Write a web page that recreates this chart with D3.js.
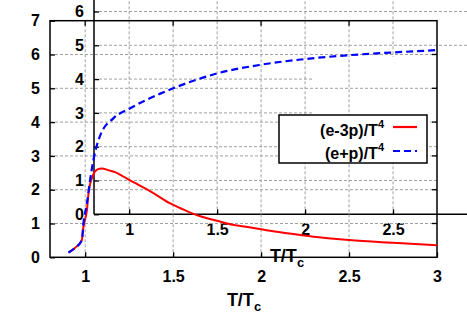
<!DOCTYPE html>
<html>
<head>
<meta charset="utf-8">
<script src="https://cdn.jsdelivr.net/npm/d3@7"></script>
<style>
  body { margin: 0; background: #fff; }
  text { font-family: "Liberation Sans", Arial, sans-serif; font-weight: bold; fill: #000; }
</style>
</head>
<body>
<div id="chart"></div>
<script>
// e-3p over T^4
var redT = [0.905, 0.94, 0.981, 0.99, 1.01, 1.019, 1.045, 1.07, 1.095, 1.13, 1.17, 1.21, 1.25, 1.30, 1.39, 1.48, 1.56, 1.65, 1.75, 1.84, 1.94, 2.03, 2.15, 2.3, 2.5, 2.75, 3.0];
var redV = [0.14, 0.27, 0.51, 0.9, 1.4, 1.9, 2.43, 2.6, 2.63, 2.58, 2.52, 2.41, 2.29, 2.15, 1.89, 1.60, 1.41, 1.22, 1.08, 0.96, 0.88, 0.80, 0.71, 0.61, 0.51, 0.43, 0.36];
// e+p over T^4
var blueT = [0.905, 0.94, 0.981, 0.99, 1.01, 1.028, 1.047, 1.085, 1.16, 1.256, 1.43, 1.5, 1.75, 1.99, 2.24, 2.5, 2.75, 3.0];
var blueV = [0.14, 0.27, 0.51, 1.0, 1.6, 2.29, 2.88, 3.6, 4.11, 4.41, 4.85, 5.0, 5.44, 5.69, 5.86, 5.98, 6.06, 6.13];

var xTicks = [1, 1.5, 2, 2.5, 3];
var yTicks = [0, 1, 2, 3, 4, 5, 6, 7];
var legendNames = ['(e-3p)/T', '(e+p)/T'];

var width = 467, height = 327;
var svg = d3.select('#chart').append('svg')
            .attr('width', width)
            .attr('height', height);

// main frame
var x = d3.scaleLinear().domain([0.8, 3]).range([50, 437]);
var y = d3.scaleLinear().domain([0, 7]).range([257.3, 20.7]);
// second copy of the frame, drawn shifted up and right
var xi = d3.scaleLinear().domain([0.8, 3]).range([94, 481]);
var yi = d3.scaleLinear().domain([0, 7]).range([214.3, -22.3]);

function grid(g, xs, ys) {
    g.selectAll('line.gx').data(xTicks.slice(0, 4)).enter().append('line')
        .attr('x1', function(d) { return xs(d); })
        .attr('x2', function(d) { return xs(d); })
        .attr('y1', ys(0)).attr('y2', ys(7));
    g.selectAll('line.gy').data(yTicks.slice(1, 7)).enter().append('line')
        .attr('x1', xs(0.8)).attr('x2', xs(3))
        .attr('y1', function(d) { return ys(d); })
        .attr('y2', function(d) { return ys(d); });
    g.selectAll('line').attr('stroke', '#a0a0a0')
        .attr('stroke-width', 1)
        .attr('stroke-dasharray', '3,2');
}

function axes(g, xs, ys, xt, yt, pad) {
    var ax = d3.axisBottom(xs).tickValues(xt).tickSize(-5).tickPadding(pad.x)
        .tickFormat(d3.format('~g'));
    var ay = d3.axisLeft(ys).tickValues(yt).tickSize(-5).tickPadding(pad.y)
        .tickFormat(d3.format('d'));
    var gx = g.append('g').attr('transform', 'translate(0,' + ys(0) + ')').call(ax);
    var gy = g.append('g').attr('transform', 'translate(' + xs(0.8) + ',0)').call(ay);
    [gx, gy].forEach(function(a) {
        a.select('.domain').remove();
        a.selectAll('line').attr('stroke', '#000').attr('stroke-width', 1.3);
        a.selectAll('text').style('font-size', '16px').style('font-family', '"Liberation Sans", Arial, sans-serif')
         .style('font-weight', 'bold').attr('fill', '#000');
    });
}

// ---- shifted frame (behind) ----
var inner = svg.append('g');
grid(inner.append('g'), xi, yi);
// blank areas in the shifted frame
inner.append('rect').attr('x', 312).attr('y', 57).attr('width', 170).attr('height', 59).attr('fill', '#fff');
inner.append('rect').attr('x', 438.5).attr('y', 116).attr('width', 40).attr('height', 97).attr('fill', '#fff');
axes(inner, xi, yi, xTicks.slice(0, 4), yTicks.slice(0, 7), {x: 9, y: 10});
inner.append('line').attr('x1', xi(0.8)).attr('x2', width).attr('y1', yi(0)).attr('y2', yi(0))
    .attr('stroke', '#000').attr('stroke-width', 1.5);
inner.append('line').attr('x1', xi(0.8)).attr('x2', xi(0.8)).attr('y1', 0).attr('y2', yi(0))
    .attr('stroke', '#000').attr('stroke-width', 1.5);
var il = inner.append('text').attr('x', 287).attr('y', 262).attr('text-anchor', 'middle').style('font-size', '18px');
il.append('tspan').text('T/T');
il.append('tspan').attr('dy', 5).style('font-size', '13px').text('c');

// ---- main frame ----
var outer = svg.append('g');
grid(outer.append('g'), x, y);
axes(outer, x, y, xTicks, yTicks, {x: 13, y: 10});
// mirrored ticks on top and right
outer.selectAll('line.tt').data(xTicks.slice(0, 4)).enter().append('line')
    .attr('x1', function(d) { return x(d); }).attr('x2', function(d) { return x(d); })
    .attr('y1', y(7)).attr('y2', y(7) + 5)
    .attr('stroke', '#000').attr('stroke-width', 1.3);
outer.selectAll('line.tr').data(yTicks.slice(1, 7)).enter().append('line')
    .attr('x1', x(3)).attr('x2', x(3) - 5)
    .attr('y1', function(d) { return y(d); }).attr('y2', function(d) { return y(d); })
    .attr('stroke', '#000').attr('stroke-width', 1.3);
outer.append('rect').attr('x', x(0.8)).attr('y', y(7))
    .attr('width', x(3) - x(0.8)).attr('height', y(0) - y(7))
    .attr('fill', 'none').attr('stroke', '#000').attr('stroke-width', 1.5);
var ol = outer.append('text').attr('x', 244).attr('y', 306).attr('text-anchor', 'middle').style('font-size', '18px');
ol.append('tspan').text('T/T');
ol.append('tspan').attr('dy', 5).style('font-size', '13px').text('c');

// ---- curves ----
var redPts = redT.map(function(t, i) { return [t, redV[i]]; });
var bluePts = blueT.map(function(t, i) { return [t, blueV[i]]; });
var line = d3.line()
    .x(function(d) { return x(d[0]); })
    .y(function(d) { return y(d[1]); })
    .curve(d3.curveMonotoneX);

svg.append('path').attr('d', line(redPts))
    .attr('fill', 'none').attr('stroke', '#ff0000').attr('stroke-width', 2);
svg.append('path').attr('d', line(bluePts))
    .attr('fill', 'none').attr('stroke', '#0000ff').attr('stroke-width', 2.2)
    .attr('stroke-dasharray', '7,4');

// ---- legend ----
var leg = svg.append('g');
leg.append('rect').attr('x', 279).attr('y', 115).attr('width', 148).attr('height', 48)
    .attr('fill', '#fff').attr('stroke', '#000').attr('stroke-width', 1.5);
var legColors = ['#ff0000', '#0000ff'];
var legDash = [null, '7,4'];
legendNames.forEach(function(name, i) {
    var t = leg.append('text').attr('x', 384).attr('y', 136 + i * 23)
        .attr('text-anchor', 'end').style('font-size', '16px');
    t.append('tspan').text(name);
    t.append('tspan').attr('dy', -8).style('font-size', '11px').text('4');
    leg.append('line').attr('x1', 393).attr('x2', 417)
        .attr('y1', 127 + i * 24).attr('y2', 127 + i * 24)
        .attr('stroke', legColors[i]).attr('stroke-width', 2.2)
        .attr('stroke-dasharray', legDash[i]);
});
</script>
</body>
</html>
